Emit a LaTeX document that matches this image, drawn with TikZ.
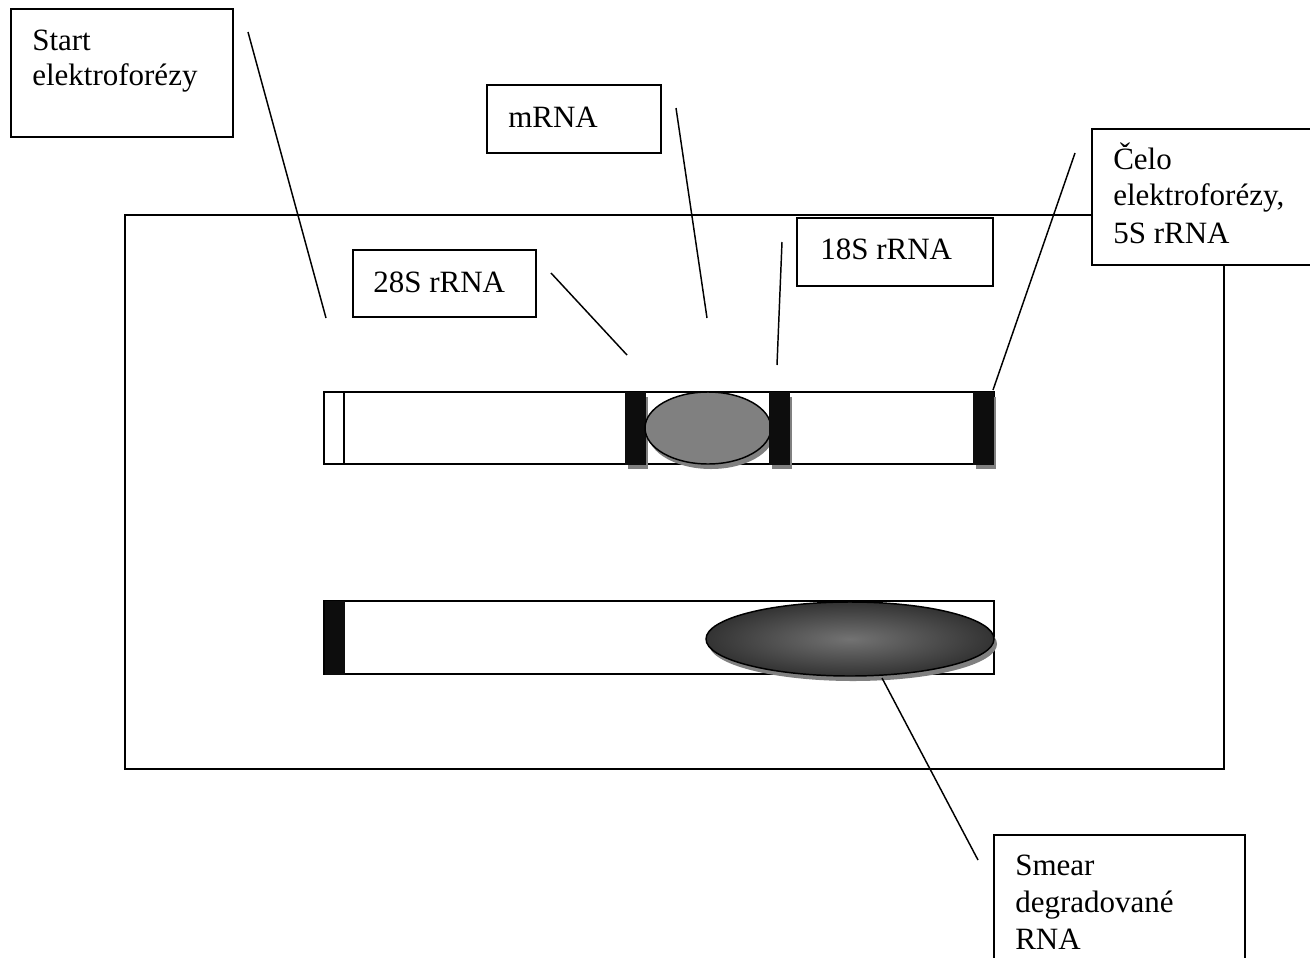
\documentclass[tikz,border=0pt]{standalone}
\usepackage{fontspec}
\setmainfont{Liberation Serif}
\usetikzlibrary{fit,shapes.geometric}
\begin{document}
\begin{tikzpicture}[x=0.75pt,y=-0.75pt,
  box/.style={draw=black, line width=1.1pt, inner sep=0pt},
  lbl/.style={anchor=base west, inner sep=0pt, font=\fontsize{23.25}{28}\selectfont},
  lane/.style={draw=black, fill=white, line width=1.1pt, inner sep=0pt},
  band/.style={fill=black!95, draw=black!95, line width=0.4pt, inner sep=0pt},
  bandshadow/.style={fill=black!50, draw=none, inner sep=0pt},
  conn/.style={draw=black, line width=1.1pt}]
\useasboundingbox (0,0) rectangle (1310,957);
\fill[white] (0,0) rectangle (1310,957);

% gel frame
\node[box, fit={(125,215) (1224,769)}] (gel) {};

% lane 1
\node[lane, fit={(324,392) (994,464)}] (lane1) {};
\node[lane, fit={(324,392) (344,464)}] (well1) {};
\node[bandshadow, fit={(628,397) (648,469)}] (s28sh) {};
\node[band, fit={(625,392) (645,464)}] (b28) {};
\node[ellipse, fill=black!50, draw=none, inner sep=0pt, minimum width=94.5pt, minimum height=54pt] (mrnash) at (711,433) {};
\node[ellipse, fill=black!50, draw=black, line width=1.1pt, inner sep=0pt, minimum width=94.5pt, minimum height=54pt] (mrnaband) at (708,428) {};
\node[bandshadow, fit={(772,397) (792,469)}] (s18sh) {};
\node[band, fit={(769,392) (789,464)}] (b18) {};
\node[bandshadow, fit={(976,397) (996,469)}] (s5sh) {};
\node[band, fit={(973,392) (993,464)}] (b5) {};

% lane 2
\node[lane, fit={(324,601) (994,674)}] (lane2) {};
\node[band, fit={(325,601) (344,674)}] (well2) {};
\node[ellipse, fill=black!50, draw=none, inner sep=0pt, minimum width=216pt, minimum height=55.5pt] (smearsh) at (853,644) {};
\node[ellipse, shading=radial, inner color=black!55, outer color=black!80, draw=black, line width=1.1pt, inner sep=0pt, minimum width=216pt, minimum height=55.5pt] (smear) at (850,639) {};

% label boxes
\node[box, fit={(11,9) (233,137)}] (startbox) {};
\node[box, fit={(487,85) (661,153)}] (mrnabox) {};
\node[box, fit={(353,250) (536,317)}] (box28) {};
\node[box, fit={(797,218) (993,286)}] (box18) {};
\node[box, fill=white, fit={(1092,129) (1330,265)}] (celobox) {};
\node[box, fill=white, fit={(994,835) (1245,975)}] (smearbox) {};

% labels
\node[lbl] (t1a) at (32,50) {Start};
\node[lbl] (t1b) at (32,85) {elektroforézy};
\node[lbl] (t2) at (508,127) {mRNA};
\node[lbl] (t3) at (373,292) {28S rRNA};
\node[lbl] (t4) at (820,259) {18S rRNA};
\node[lbl] (t5a) at (1113,169) {Čelo};
\node[lbl] (t5b) at (1113,205) {elektroforézy,};
\node[lbl] (t5c) at (1113,243) {5S rRNA};
\node[lbl] (t6a) at (1015,875) {Smear};
\node[lbl] (t6b) at (1015,912) {degradované};
\node[lbl] (t6c) at (1015,949) {RNA};

% connectors
\coordinate (cSa) at (248,32);   \coordinate (cSb) at (326,318);
\coordinate (cMa) at (676,108);  \coordinate (cMb) at (707,318);
\coordinate (c28a) at (551,273); \coordinate (c28b) at (627,355);
\coordinate (c18a) at (782,242); \coordinate (c18b) at (777,365);
\coordinate (cCa) at (1075,153); \coordinate (cCb) at (993,390);
\coordinate (cXa) at (882,678);  \coordinate (cXb) at (978,860);
\draw[conn] (cSa) -- (cSb);
\draw[conn] (cMa) -- (cMb);
\draw[conn] (c28a) -- (c28b);
\draw[conn] (c18a) -- (c18b);
\draw[conn] (cCa) -- (cCb);
\draw[conn] (cXa) -- (cXb);
\end{tikzpicture}
\end{document}
